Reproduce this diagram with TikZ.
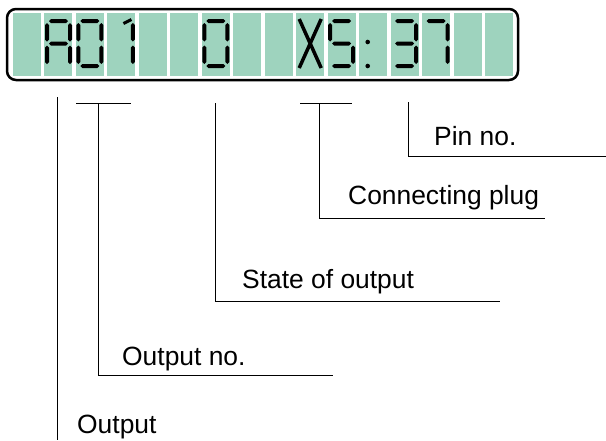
\documentclass[tikz,border=0pt]{standalone}
\usepackage{fontspec}
\setmainfont{Liberation Sans}
\usetikzlibrary{positioning}
\definecolor{lcdgreen}{RGB}{158,211,190}

\newcommand\hseg[2]{\fill (#1+4.5,#2) -- (#1+6.5,#2-2) -- (#1+21.5,#2-2) -- (#1+23.5,#2) -- (#1+21.5,#2+2) -- (#1+6.5,#2+2) -- cycle;}
\newcommand\vseg[3]{\fill (#1,#2) -- (#1+2,#2+2) -- (#1+2,#3-2) -- (#1,#3) -- (#1-2,#3-2) -- (#1-2,#2+2) -- cycle;}
\newcommand\segA[1]{\hseg{#1}{21}}
\newcommand\segB[1]{\vseg{#1+25.5}{23}{41.5}}
\newcommand\segC[1]{\vseg{#1+25.5}{45.5}{64}}
\newcommand\segD[1]{\hseg{#1}{66}}
\newcommand\segE[1]{\vseg{#1+2.5}{45.5}{64}}
\newcommand\segF[1]{\vseg{#1+2.5}{23}{41.5}}
\newcommand\segG[1]{\hseg{#1}{43.5}}
\newcommand\lcdchar[2]{\foreach \s in {#2}{\csname seg\s\endcsname{#1}}}

\begin{document}
\begin{tikzpicture}[x=1pt,y=-1pt]
                \tikzset{lbl/.style={anchor=base west,inner sep=0pt,font=\fontsize{26.4}{31}\selectfont},
                    lead/.style={line width=0.8pt}}
                \useasboundingbox (0,0) rectangle (606,440);
                \foreach \i in {0,...,15}
                    \fill [lcdgreen] (13+31.47*\i,13) rectangle ++(28,63);
                \draw [line width=2.5pt, rounded corners=9pt] (7,9) rectangle (518,80);
                \lcdchar{44.5}{A,B,C,E,F,G}
                \lcdchar{75.9}{A,B,C,D,E,F}
                \lcdchar{107.4}{B,C}
                \draw [line width=3pt] (107.4+16,23.5) -- (107.4+24,19.5);
                \lcdchar{201.8}{A,B,C,D,E,F}
                \draw [line width=3.5pt] (296.2+3,19) -- (296.2+25,68);
                \draw [line width=3.5pt] (296.2+25,19) -- (296.2+3,68);
                \lcdchar{327.7}{A,C,D,F,G}
                \fill (359.2+8.5,42) circle (2.3);
                \fill (359.2+8.5,66) circle (2.3);
                \lcdchar{390.6}{A,B,C,D,G}
                \lcdchar{422.1}{A,B,C}
                \node [lbl] (out) at (77,433) {Output};
                \node [lbl] (outno) at (122,365) {Output no.};
                \node [lbl] (state) at (242,288) {State of output};
                \node [lbl] (plug) at (348,204) {Connecting plug};
                \node [lbl] (pin) at (434,145) {Pin no.};
                \coordinate (outTop) at (57,97);
                \coordinate (outEnd) at (57,440);
                \coordinate (noL) at (76,103);
                \coordinate (noR) at (131,103);
                \coordinate (noTop) at (98,103);
                \coordinate (noEnd) at (333,375);
                \coordinate (stateTop) at (215,103);
                \coordinate (stateEnd) at (500,301);
                \coordinate (plugL) at (300,103);
                \coordinate (plugR) at (352,103);
                \coordinate (plugTop) at (319,103);
                \coordinate (plugEnd) at (545,218);
                \coordinate (pinTop) at (408,102);
                \coordinate (pinEnd) at (606,156);
                \draw [lead] (outTop) -- (outEnd);
                \draw [lead] (noL) -- (noR);
                \draw [lead] (noTop) |- (noEnd);
                \draw [lead] (stateTop) |- (stateEnd);
                \draw [lead] (plugL) -- (plugR);
                \draw [lead] (plugTop) |- (plugEnd);
                \draw [lead] (pinTop) |- (pinEnd);
            \end{tikzpicture}
\end{document}
